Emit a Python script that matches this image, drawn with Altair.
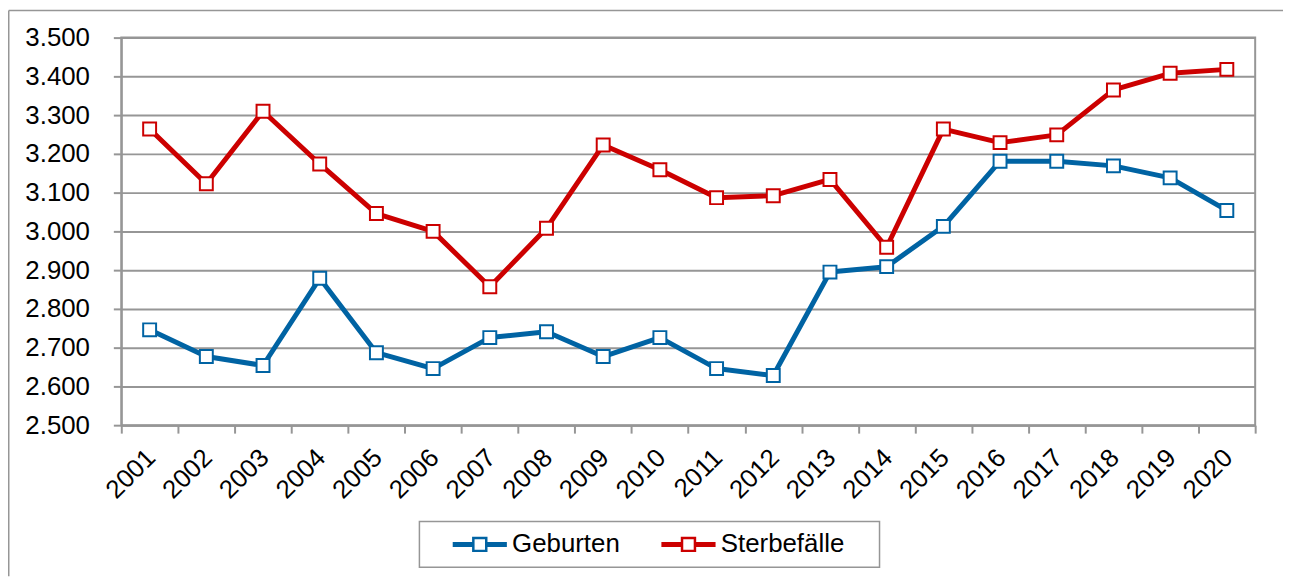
import altair as alt
import pandas as pd

# ---- data ----
jahre = ["2001", "2002", "2003", "2004", "2005", "2006", "2007", "2008", "2009", "2010",
         "2011", "2012", "2013", "2014", "2015", "2016", "2017", "2018", "2019", "2020"]
geburten = [2746, 2677, 2654, 2879, 2687, 2646, 2726, 2741, 2677, 2726,
            2646, 2628, 2895, 2909, 3013, 3181, 3181, 3169, 3138, 3054]
sterbefaelle = [3264, 3123, 3310, 3174, 3046, 3000, 2857, 3008, 3223, 3159,
                3087, 3092, 3134, 2959, 3264, 3229, 3249, 3365, 3408, 3418]
reihen = ["Geburten", "Sterbefälle"]
farben = ["#0063a3", "#cc0000"]
y_ticks = [2500, 2600, 2700, 2800, 2900, 3000, 3100, 3200, 3300, 3400, 3500]

rows = []
for j, g, s in zip(jahre, geburten, sterbefaelle):
    rows.append({"Jahr": j, "Reihe": reihen[0], "Wert": g})
    rows.append({"Jahr": j, "Reihe": reihen[1], "Wert": s})
df = pd.DataFrame(rows)

FONT = "Liberation Sans"
GRAY = "#969696"
W, H = 1141, 390

# legend symbol: thick line with a hollow square in the middle
legend_path = (
    "M-2.6,-0.125 L-0.65,-0.125 L-0.65,0.125 L-2.6,0.125 Z "
    "M0.65,-0.125 L2.6,-0.125 L2.6,0.125 L0.65,0.125 Z "
    "M-0.65,-0.65 L0.65,-0.65 L0.65,0.65 L-0.65,0.65 Z"
)

x_enc = alt.X(
    "Jahr:N", sort=jahre,
    scale=alt.Scale(type="band", paddingInner=0, paddingOuter=0),
    axis=alt.Axis(
        title=None, labelAngle=-45, labelAlign="right", labelBaseline="top",
        labelPadding=11, labelOffset=-8, labelFont=FONT, labelFontSize=26,
        labelColor="black", labelOverlap=False,
        tickBand="extent", tickSize=8, tickColor=GRAY, tickWidth=2,
        domainColor=GRAY, domainWidth=2, grid=False,
    ),
)
y_enc = alt.Y(
    "Wert:Q",
    scale=alt.Scale(domain=[2500, 3500], nice=False, zero=False),
    axis=alt.Axis(
        title=None, values=y_ticks, tickCount=11, labelOverlap=False,
        labelExpr="replace(format(datum.value, ','), ',', '.')",
        labelFont=FONT, labelFontSize=26, labelColor="black", labelPadding=24,
        tickSize=8, tickColor=GRAY, tickWidth=2,
        domainColor=GRAY, domainWidth=2,
        grid=True, gridColor=GRAY, gridWidth=2,
    ),
)

base = alt.Chart(df)

lines = base.mark_line(strokeWidth=5, strokeJoin="round").encode(
    x=x_enc, y=y_enc,
    color=alt.Color(
        "Reihe:N", sort=reihen,
        scale=alt.Scale(domain=reihen, range=farben),
        legend=alt.Legend(
            # invisible title on the right only widens the legend frame
            title="x", titleOrient="right", titleColor="#ffffff",
            titleFont=FONT, titleFontSize=26, titlePadding=10,
            orient="none", legendX=300, legendY=487,
            direction="horizontal", columns=2,
            symbolType=legend_path, symbolSize=400, symbolStrokeWidth=2.5,
            symbolFillColor="white", symbolOffset=37.75,
            labelFont=FONT, labelFontSize=26, labelColor="black",
            labelOffset=19.5, columnPadding=18, padding=10,
            strokeColor=GRAY,
        ),
    ),
)

points = base.mark_point(shape="square", size=169, strokeWidth=2, opacity=1).encode(
    x=x_enc, y=y_enc,
    stroke=alt.Stroke("Reihe:N", scale=alt.Scale(domain=reihen, range=farben), legend=None),
    fill=alt.value("white"),
)

frame_df = pd.DataFrame({"k": [0]})
top_border = alt.Chart(frame_df).mark_rule(color=GRAY, strokeWidth=1.5).encode(
    x=alt.value(-113.25), x2=alt.value(W + 28), y=alt.value(-27.25)
)
left_border = alt.Chart(frame_df).mark_rule(color=GRAY, strokeWidth=1.5).encode(
    x=alt.value(-113.25), y=alt.value(-27.25), y2=alt.value(H + 152)
)

chart = alt.layer(lines, points, top_border, left_border).properties(
    width=W, height=H,
    autosize=alt.AutoSizeParams(type="none"),
    padding={"left": 114, "top": 28, "right": 28, "bottom": 152},
).configure_view(
    stroke=GRAY, strokeWidth=2
).configure_legend(
    strokeWidth=1.5
)

chart.save("out.html", embed_options={"renderer": "svg", "actions": False})
